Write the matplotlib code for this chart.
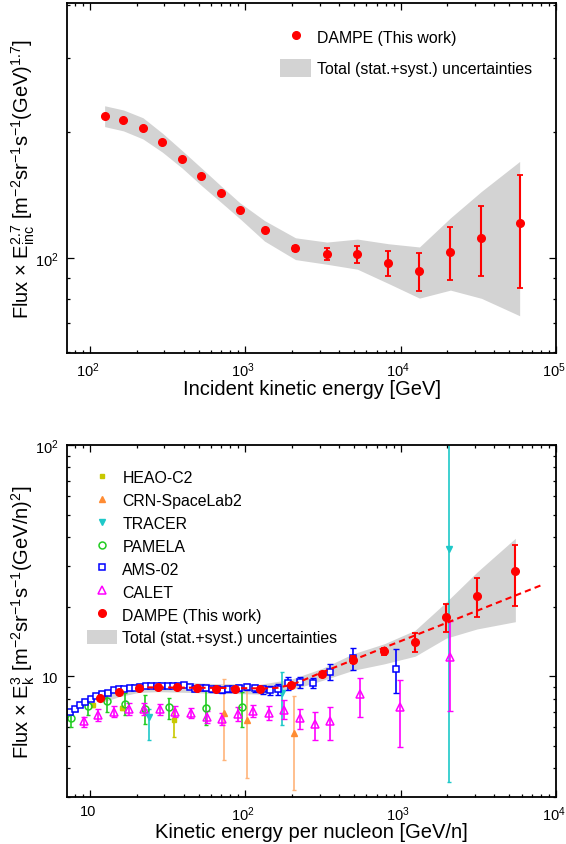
import numpy as np
import matplotlib
matplotlib.use('Agg')
import matplotlib.pyplot as plt
from matplotlib.ticker import LogLocator, FuncFormatter, NullFormatter
from matplotlib.transforms import ScaledTranslation

plt.rcParams['font.family'] = ['Liberation Sans', 'DejaVu Sans']
plt.rcParams['mathtext.fontset'] = 'custom'
plt.rcParams['mathtext.rm'] = 'Liberation Sans'
plt.rcParams['mathtext.it'] = 'Liberation Sans:italic'
plt.rcParams['mathtext.default'] = 'regular'

# ---- top panel: DAMPE vs incident kinetic energy ----
top_E = [124, 164, 219, 292, 391, 521, 692, 918, 1327, 2100, 3340, 5260,
         8340, 13200, 20900, 33100, 58300]
top_flux = [218, 213, 204, 189, 172.5, 156.7, 142.8, 130.6, 116.5, 105.6,
            102.4, 102.4, 97.3, 93.2, 103.7, 111.9, 121.2]
top_err_lo = [0, 0, 0, 0, 0, 0, 0, 0, 0.8, 1.5, 3.3, 4.7, 6.5, 9.5, 14.7, 21.2, 36]
top_err_hi = [0, 0, 0, 0, 0, 0, 0, 0, 0.8, 1.5, 3.2, 4.8, 6.8, 9.6, 14.9, 21.6, 37]
top_band_lo = [205.8, 201, 192.3, 178.9, 164, 149, 136.2, 124.4, 109.9, 99.3,
               96.8, 94.2, 87.1, 80.4, 84.0, 80.3, 73.0]
top_band_hi = [230.7, 225.4, 216, 198.5, 180.5, 164, 149, 135.7, 123, 111.9,
               109.3, 111.1, 108.3, 106.4, 124.8, 144.3, 170]

# ---- bottom panel: flux x Ek^3 per nucleon ----
dampe_E = [11.5, 15.4, 20.5, 27.3, 36.4, 48.6, 64.6, 86.1, 124.5, 197, 312,
           494, 782, 1239, 1960, 3100, 5470]
dampe_flux = [8.03, 8.58, 8.93, 9.0, 8.96, 8.91, 8.84, 8.84, 8.79, 9.2, 10.2,
              11.77, 12.83, 14.1, 18.0, 22.2, 28.5]
dampe_err_lo = [0.05, 0.05, 0.05, 0.05, 0.05, 0.06, 0.07, 0.08, 0.1, 0.15, 0.25,
                0.4, 0.45, 1.4, 2.4, 4.2, 8.4]
dampe_err_hi = [0.05, 0.05, 0.05, 0.05, 0.05, 0.06, 0.07, 0.08, 0.1, 0.15, 0.25,
                0.4, 0.47, 1.3, 2.5, 4.3, 8.6]
band_lo = [7.65, 8.15, 8.5, 8.57, 8.53, 8.48, 8.41, 8.41, 8.36, 8.72, 9.58,
           10.6, 11.3, 12.2, 14.6, 16.0, 17.2]
band_hi = [8.45, 9.0, 9.38, 9.45, 9.41, 9.36, 9.28, 9.28, 9.23, 9.7, 10.8,
           12.5, 13.8, 15.8, 20.9, 28.2, 39.5]

fit_E = [20, 60, 130, 160, 200, 240, 302, 8360]
fit_flux = [8.95, 8.9, 8.85, 8.9, 9.2, 9.65, 10.3, 25.0]

ams_E = [7.43, 7.95, 8.61, 9.33, 10.1, 10.9, 11.9, 13.0, 14.2, 15.3, 16.6, 18.0,
         19.5, 21.1, 22.9, 24.8, 26.9, 29.1, 31.5, 34.2, 37.0, 40.5, 43.9, 47.6,
         51.5, 55.8, 60.5, 65.6, 71.1, 77.0, 83.4, 90.4, 102, 115, 129, 144, 163,
         189, 224, 273, 351, 491, 933]
ams_flux = [6.97, 7.18, 7.52, 7.72, 7.93, 8.19, 8.39, 8.47, 8.67, 8.79, 8.81, 8.87,
            8.93, 9.02, 9.08, 9.11, 9.11, 9.11, 9.11, 9.08, 9.08, 9.17, 9.02, 8.76,
            8.93, 8.87, 8.76, 8.76, 8.67, 8.76, 8.76, 8.87, 8.96, 8.87, 8.76, 8.67,
            8.76, 9.33, 9.42, 9.36, 10.47, 11.96, 10.76]
ams_err = [0.08, 0.08, 0.08, 0.08, 0.08, 0.08, 0.08, 0.08, 0.08, 0.08, 0.08, 0.08,
           0.08, 0.08, 0.08, 0.08, 0.08, 0.08, 0.1, 0.1, 0.1, 0.12, 0.12, 0.15,
           0.15, 0.15, 0.18, 0.18, 0.2, 0.2, 0.22, 0.25, 0.28, 0.3, 0.35, 0.4,
           0.5, 0.6, 0.5, 0.5, 0.85, 1.3, 2.3]

calet_E = [9.18, 11.2, 14.2, 17.7, 22.3, 28.0, 35.3, 44.7, 56.2, 70.7, 89.0, 112,
           141, 177, 223, 281, 353, 550, 984, 2070]
calet_flux = [6.37, 6.80, 7.03, 7.22, 7.22, 7.18, 7.03, 6.94, 6.69, 6.54, 6.87,
              7.08, 6.94, 7.15, 6.59, 6.2, 6.37, 8.36, 7.32, 12.16]
calet_err_lo = [0.35, 0.43, 0.4, 0.4, 0.45, 0.4, 0.4, 0.35, 0.4, 0.4, 0.45, 0.45,
                0.5, 0.6, 0.67, 0.93, 1.1, 1.67, 2.4, 5.1]
calet_err_hi = [0.27, 0.4, 0.4, 0.4, 0.45, 0.4, 0.4, 0.35, 0.4, 0.4, 0.45, 0.45,
                0.5, 0.7, 0.63, 0.8, 0.98, 1.5, 2.3, 5.2]

pamela_E = [7.54, 9.73, 12.9, 16.8, 22.4, 32.4, 55.6, 95.3]
pamela_flux = [6.58, 7.42, 7.77, 7.57, 7.18, 7.32, 7.30, 7.39]
pamela_err_lo = [0.56, 0.66, 0.78, 0.77, 0.96, 0.78, 1.18, 1.37]
pamela_err_hi = [0.65, 0.43, 0.61, 0.9, 1.07, 0.71, 1.51, 1.14]

heao_E = [7.43, 10.5, 16.0, 34.9]
heao_flux = [6.98, 7.51, 7.26, 6.45]
heao_err_lo = [0.15, 0.12, 0.15, 1.0]
heao_err_hi = [0.15, 0.12, 0.15, 0.75]

crn_E = [73, 103, 207]
crn_flux = [6.94, 6.43, 5.69]
crn_err_lo = [2.62, 2.81, 2.48]
crn_err_hi = [2.8, 2.53, 2.5]

tracer_E = [23.9, 171, 2047]
tracer_flux = [6.69, 8.44, 35.5]
tracer_err_lo = [1.42, 2.28, 32.0]
tracer_err_hi = [0.54, 1.96, 150.0]

RED = '#ff0000'
BLUE = '#0000ff'
MAGENTA = '#ff00ff'
GREEN = '#22cc22'
YELLOW = '#c8c800'
ORANGE = '#ff8c33'
ORANGE_ERR = '#ffb47a'
CYAN = '#1ec8c8'
GREY = '#d3d3d3'


def pow_fmt(v, pos):
    e = int(round(np.log10(v)))
    if e == 1:
        return '10'
    return r'$10^{%d}$' % e


def style_axes(ax):
    ax.set_xscale('log')
    ax.set_yscale('log')
    ax.xaxis.set_major_locator(LogLocator(base=10, numticks=10))
    ax.xaxis.set_minor_locator(LogLocator(base=10, subs=np.arange(2, 10), numticks=10))
    ax.yaxis.set_major_locator(LogLocator(base=10, numticks=10))
    ax.yaxis.set_minor_locator(LogLocator(base=10, subs=np.arange(2, 10), numticks=10))
    ax.xaxis.set_major_formatter(FuncFormatter(pow_fmt))
    ax.yaxis.set_major_formatter(FuncFormatter(pow_fmt))
    ax.xaxis.set_minor_formatter(NullFormatter())
    ax.yaxis.set_minor_formatter(NullFormatter())
    ax.tick_params(which='both', direction='in', top=True, right=True,
                   labelsize=10.5, width=0.9)
    ax.tick_params(which='major', length=5)
    ax.tick_params(axis='x', which='major', pad=5)
    ax.tick_params(axis='y', which='major', pad=6)
    ax.tick_params(which='minor', length=2.2)
    for s in ax.spines.values():
        s.set_linewidth(1.3)


def shift_xlabels(ax, fig):
    # labels sit a little left of their ticks, as in the original
    off = ScaledTranslation(-2.5 / 100, 0, fig.dpi_scale_trans)
    for lab in ax.get_xticklabels():
        lab.set_transform(lab.get_transform() + off)


fig = plt.figure(figsize=(5.66, 8.45), dpi=100)

# ---------------- top panel ----------------
ax1 = fig.add_axes([0.1184, 0.581, 0.864, 0.4142])
style_axes(ax1)
band1 = ax1.fill_between(top_E, top_band_lo, top_band_hi, color=GREY, lw=0,
                         label='Total (stat.+syst.) uncertainties')
ax1.errorbar(top_E, top_flux, yerr=[top_err_lo, top_err_hi], fmt='none',
             ecolor=RED, elinewidth=1.5, capsize=2.5, capthick=1.3)
pt1, = ax1.plot(top_E, top_flux, 'o', color=RED, ms=5.5, label='DAMPE (This work)')
ax1.set_xlim(71, 1e5)
ax1.set_ylim(59.5, 405)
ax1.set_xlabel('Incident kinetic energy [GeV]', fontsize=14.5, va='center')
ax1.xaxis.set_label_coords(0.5, -0.1)
ax1.set_ylabel(r'Flux × E$_{inc}^{2.7}$ [m$^{-2}$sr$^{-1}$s$^{-1}$(GeV)$^{1.7}$]',
               fontsize=14.5, va='center')
ax1.yaxis.set_label_coords(-0.09, 0.5)
ax1.legend(handles=[pt1, band1], loc='upper left', bbox_to_anchor=(0.4356, 0.93),
           frameon=False, fontsize=11.4, borderpad=0, borderaxespad=0,
           handlelength=1.96, handleheight=1.33, handletextpad=0.4,
           labelspacing=0.9, numpoints=1)

# ---------------- bottom panel ----------------
ax2 = fig.add_axes([0.1184, 0.0556, 0.864, 0.4166])
style_axes(ax2)
band2 = ax2.fill_between(dampe_E, band_lo, band_hi, color=GREY, lw=0,
                         label='Total (stat.+syst.) uncertainties')

ax2.errorbar(crn_E, crn_flux, yerr=[crn_err_lo, crn_err_hi], fmt='none',
             ecolor=ORANGE_ERR, elinewidth=1.2, capsize=1.5)
ax2.errorbar(heao_E, heao_flux, yerr=[heao_err_lo, heao_err_hi], fmt='none',
             ecolor=YELLOW, elinewidth=1.2, capsize=1.5)
ax2.errorbar(tracer_E, tracer_flux, yerr=[tracer_err_lo, tracer_err_hi], fmt='none',
             ecolor=CYAN, elinewidth=1.2, capsize=1.5)
ax2.errorbar(pamela_E, pamela_flux, yerr=[pamela_err_lo, pamela_err_hi], fmt='none',
             ecolor=GREEN, elinewidth=1.2, capsize=1.5)
ax2.errorbar(calet_E, calet_flux, yerr=[calet_err_lo, calet_err_hi], fmt='none',
             ecolor=MAGENTA, elinewidth=1.2, capsize=2)
ax2.errorbar(ams_E, ams_flux, yerr=ams_err, fmt='none',
             ecolor=BLUE, elinewidth=1.2, capsize=2)

heao, = ax2.plot(heao_E, heao_flux, 's', color=YELLOW, ms=3.5, label='HEAO-C2')
crn, = ax2.plot(crn_E, crn_flux, '^', color=ORANGE, ms=4, label='CRN-SpaceLab2')
tracer, = ax2.plot(tracer_E, tracer_flux, 'v', color=CYAN, ms=4, label='TRACER')
pamela, = ax2.plot(pamela_E, pamela_flux, 'o', mfc='none', mec=GREEN, mew=1.1,
                   ms=5, label='PAMELA')
calet, = ax2.plot(calet_E, calet_flux, '^', mfc='none', mec=MAGENTA, mew=1.1,
                  ms=5.5, label='CALET')
ams, = ax2.plot(ams_E, ams_flux, 's', mfc='white', mec=BLUE, mew=1.1,
                ms=4, label='AMS-02')
ax2.plot(fit_E, fit_flux, color=RED, lw=1.5, ls=(0, (3, 2)))
ax2.errorbar(dampe_E, dampe_flux, yerr=[dampe_err_lo, dampe_err_hi], fmt='none',
             ecolor=RED, elinewidth=1.5, capsize=2.5, capthick=1.3)
dampe, = ax2.plot(dampe_E, dampe_flux, 'o', color=RED, ms=5.5,
                  label='DAMPE (This work)')

ax2.set_xlim(7.1, 1e4)
ax2.set_ylim(3, 100)
ax2.set_xlabel('Kinetic energy per nucleon [GeV/n]', fontsize=14.5, va='center')
ax2.xaxis.set_label_coords(0.5, -0.098)
ax2.set_ylabel(r'Flux × E$_{k}^{3}$ [m$^{-2}$sr$^{-1}$s$^{-1}$(GeV/n)$^{2}$]',
               fontsize=14.5, va='center')
ax2.yaxis.set_label_coords(-0.09, 0.5)
ax2.legend(handles=[heao, crn, tracer, pamela, ams, calet, dampe, band2],
           loc='upper left', bbox_to_anchor=(0.0403, 0.93), frameon=False,
           fontsize=11.4, borderpad=0, borderaxespad=0, handlelength=1.9,
           handleheight=1.05, handletextpad=0.35, labelspacing=0.45, numpoints=1)

fig.canvas.draw()
shift_xlabels(ax1, fig)
shift_xlabels(ax2, fig)

fig.savefig('out.png', dpi=100)
